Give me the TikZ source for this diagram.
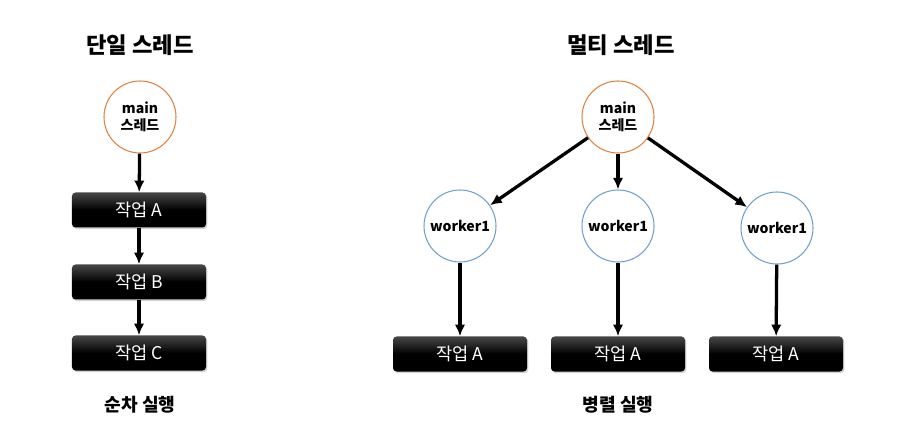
\documentclass[tikz,border=0pt]{standalone}
\usepackage{fontspec}
\setmainfont{Noto Sans CJK KR}
\usepackage{xcolor}
\usetikzlibrary{positioning, calc, arrows.meta, shadows}

\begin{document}
\begin{tikzpicture}[
  x=0.03cm, y=-0.03cm,
  font=\rmfamily,
  >={Latex[length=10pt,width=9pt]},
  thread/.style={circle, line width=0.9pt, fill=white, minimum size=2.16cm,
                 inner sep=0pt, align=center, font=\bfseries\fontsize{12}{15}\selectfont},
  mainthr/.style={thread, draw=cOrange},
  workthr/.style={thread, draw=cBlue},
  taskbox/.style={rounded corners=3pt, minimum width=4.02cm, minimum height=1.05cm,
                  top color=black!72, bottom color=black, middle color=black,
                  text=white, font=\fontsize{15}{17}\selectfont,
                  drop shadow={opacity=0.35, shadow xshift=0.04cm, shadow yshift=-0.05cm}},
  flow/.style={black, line width=2.8pt, ->},
  caption/.style={font=\bfseries\fontsize{15.5}{18}\selectfont},
  heading/.style={font=\bfseries\fontsize{19}{22}\selectfont},
]
\definecolor{cOrange}{HTML}{E0823F}   % main thread ring
\definecolor{cBlue}{HTML}{6FA0D2}     % worker ring

\useasboundingbox (0,0) rectangle (898,433);

% ---------- single thread ----------
\node[heading] (singleTitle) at (140, 45) {단일 스레드};
\node[mainthr] (sMain) at (140, 117) {main\\스레드};
\node[taskbox] (sTaskA) at (139, 210) {작업 A};
\node[taskbox] (sTaskB) at (139, 282) {작업 B};
\node[taskbox] (sTaskC) at (139, 353) {작업 C};
\node[caption] (seqLabel) at (140, 405) {순차 실행};

\draw[flow] (sMain) -- (sTaskA);
\draw[flow] (sTaskA) -- (sTaskB);
\draw[flow] (sTaskB) -- (sTaskC);

% ---------- multi thread ----------
\node[heading] (multiTitle) at (621, 45) {멀티 스레드};
\node[mainthr] (mMain) at (618, 117) {main\\스레드};

\node[workthr] (workL) at (460, 226) {worker1};
\node[workthr] (workM) at (618, 226) {worker1};
\node[workthr] (workR) at (777, 228) {worker1};

\node[taskbox] (taskL) at (460, 354) {작업 A};
\node[taskbox] (taskM) at (618, 354) {작업 A};
\node[taskbox] (taskR) at (776, 354) {작업 A};

\node[caption] (parLabel) at (618, 405) {병렬 실행};

\draw[flow] (mMain) -- (workL);
\draw[flow] (mMain) -- (workM);
\draw[flow] (mMain) -- (workR);

\draw[flow] (workL) -- (taskL);
\draw[flow] (workM) -- (taskM);
\draw[flow] (workR) -- (taskR);

\end{tikzpicture}
\end{document}
